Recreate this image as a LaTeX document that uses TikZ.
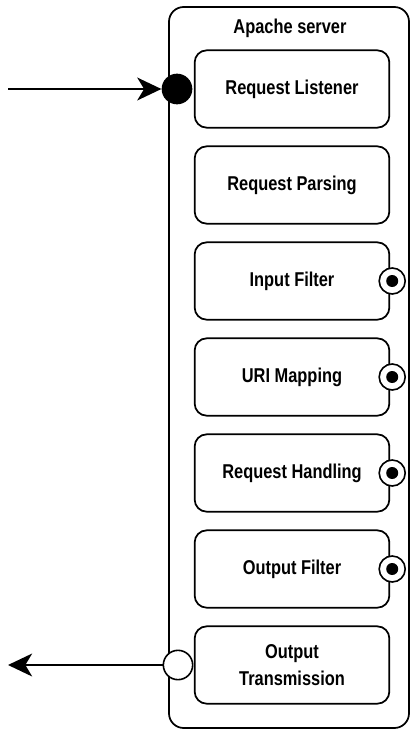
\documentclass[tikz,border=0pt]{standalone}
\usepackage{fontspec}
\setmainfont{Liberation Sans}[FakeStretch=0.82]
\usetikzlibrary{positioning,arrows.meta}

\tikzset{
    stage/.style={draw, line width=1.3pt, rounded corners=9pt, minimum width=146pt,
        minimum height=58pt, align=center, font=\bfseries\fontsize{15}{20}\selectfont},
    outport/.style={circle, draw, line width=1.2pt, fill=white, minimum size=19.5pt, inner sep=0pt},
    hook/.style={circle, fill=black, minimum size=9pt, inner sep=0pt},
    flow/.style={line width=2.2pt, -{Stealth[length=18pt,width=17pt,inset=5pt]}}
}

\begin{document}
\begin{tikzpicture}[x=0.75pt, y=-0.75pt]
    \useasboundingbox (0, 0) rectangle (410, 731);
    \draw[line width=1.3pt, rounded corners=11pt] (169, 7) rectangle (409, 728);
    \node[font=\bfseries\fontsize{15}{18}\selectfont] (title) at (290, 28) {Apache server};

    % processing stages
    \node[stage] (listen) at (292, 89) {Request Listener};
    \node[stage] (parse) at (292, 185) {Request Parsing};
    \node[stage] (infilter) at (292, 281) {Input Filter};
    \node[stage] (urimap) at (292, 377) {URI Mapping};
    \node[stage] (handle) at (292, 473) {Request Handling};
    \node[stage] (outfilter) at (292, 569) {Output Filter};
    \node[stage] (transmit) at (292, 665) {Output\\Transmission};

    % hooks on the right side
    \foreach \s in {infilter, urimap, handle, outfilter} {
        \node[outport] (\s port) at ([xshift=1.5pt]\s.east) {};
        \node[hook] at (\s port) {};
    }

    % entry and exit
    \node[circle, fill=black, minimum size=23pt, inner sep=0pt] (entry) at (177, 89) {};
    \node[outport, minimum size=22pt] (exit) at (178, 665) {};
    \coordinate (src) at (8, 89);
    \coordinate (dst) at (8, 665);
    \draw[flow] (src) -- (entry);
    \draw[flow] (exit) -- (dst);
\end{tikzpicture}
\end{document}
